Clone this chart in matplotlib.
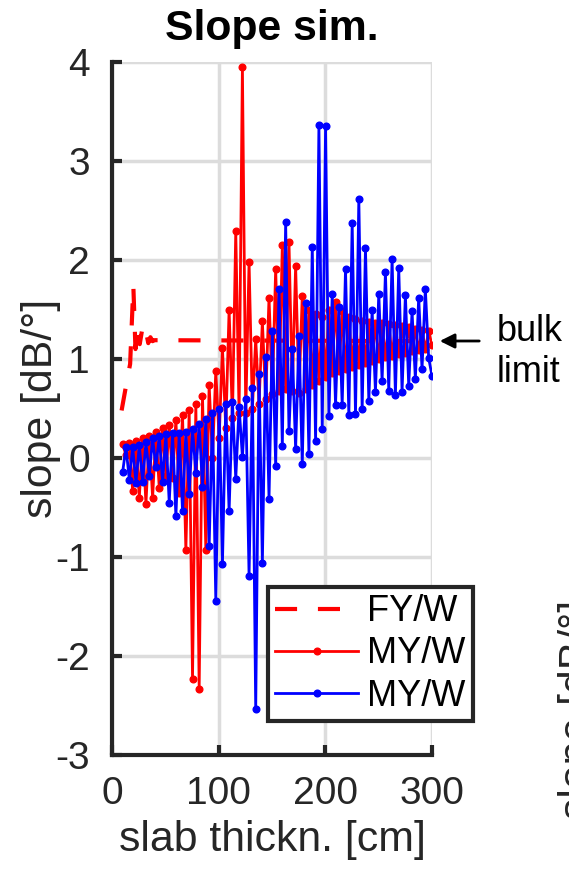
import numpy as np
import matplotlib
matplotlib.use('Agg')
import matplotlib.pyplot as plt

plt.rcParams['font.family'] = ['Liberation Sans', 'DejaVu Sans']
plt.rcParams['axes.unicode_minus'] = False

#Values
thickness = np.linspace(10, 300, 94)

fy_thickness = [9, 13, 17, 20, 22, 24, 26, 28, 30, 32, 34, 36, 38, 40, 300]
fy_slope = [0.48, 0.72, 0.95, 1.74, 1.10, 1.30, 1.15, 1.28, 1.20, 1.27, 1.16, 1.22, 1.18, 1.19, 1.18]

my_red = [0.14, 0.03, 0.155, -0.33, 0.17, -0.40, 0.20, -0.46, 0.22, -0.40,
          0.26, -0.30, 0.30, -0.18, 0.33, -0.20, 0.38, -0.35, 0.43, -0.93,
          0.48, -2.23, 0.55, -2.33, 0.63, -0.93, 0.74, 0.0, 0.88, 0.2,
          1.11, 0.3, 1.50, 0.4, 2.29, 0.45, 3.95, 0.45, 1.98, 0.5,
          1.20, 0.55, 1.38, 0.6, 1.62, 0.65, 1.91, 0.68, 2.15, 0.7,
          2.18, 0.68, 1.94, 0.66, 1.64, 0.70, 1.50, 0.74, 1.45, 0.78,
          1.42, 0.82, 1.50, 0.86, 1.58, 0.88, 1.48, 0.90, 1.42, 0.92,
          1.40, 0.94, 1.38, 0.96, 1.37, 0.98, 1.36, 1.0, 1.36, 1.02,
          1.35, 1.03, 1.34, 1.05, 1.33, 1.06, 1.32, 1.08, 1.30, 1.09,
          1.29, 1.10, 1.28, 1.14]

my_blue = [-0.14, 0.11, -0.22, 0.11, -0.25, 0.13, -0.24, 0.16, -0.18, 0.20,
           -0.09, 0.22, -0.24, 0.24, -0.45, 0.25, -0.59, 0.25, -0.54, 0.26,
           -0.36, 0.29, -0.15, 0.34, -0.29, 0.39, -0.89, 0.45, -1.44, 0.50,
           -1.07, 0.55, -0.54, 0.57, -0.21, 0.52, 0.01, 0.60, -1.19, 0.71,
           -2.54, 0.85, -1.06, 1.02, -0.41, 1.28, -0.08, 1.71, 0.12, 2.38,
           0.27, 1.10, 0.09, 1.23, -0.06, 1.57, 0.04, 2.13, 0.17, 3.36,
           0.29, 3.35, 0.42, 1.66, 0.54, 1.53, 0.54, 1.91, 0.43, 2.37,
           0.44, 2.62, 0.49, 2.12, 0.58, 1.49, 0.67, 1.66, 0.78, 1.88,
           0.68, 2.01, 0.64, 1.92, 0.67, 1.65, 0.73, 1.48, 0.80, 1.62,
           0.90, 1.71, 1.01, 0.83]

xticks = [0, 100, 200, 300]
yticks = [-3, -2, -1, 0, 1, 2, 3, 4]

fig = plt.figure(figsize=(5.69, 8.69), dpi=100)
ax = fig.add_axes([112/569, 1-755/869, 320/569, 693/869])

ax.plot(fy_thickness, fy_slope, color='red', lw=3.0, dashes=(5.3, 5.0), label='FY/W', zorder=2)
ax.plot(thickness, my_red, color='red', lw=2.0, marker='o', ms=4.8, label='MY/W', zorder=3)
ax.plot(thickness, my_blue, color='blue', lw=2.0, marker='o', ms=4.8, label='MY/W', zorder=4)

ax.set_xlim(0, 300)
ax.set_ylim(-3, 4)
ax.set_xticks(xticks)
ax.set_yticks(yticks)
ax.grid(True, color='#dcdcdc', lw=2.5)
ax.set_axisbelow(True)
for side in ['top', 'right']:
    ax.spines[side].set_visible(False)
for side in ['left', 'bottom']:
    ax.spines[side].set_linewidth(3)
    ax.spines[side].set_color('#262626')
ax.tick_params(direction='in', length=7, width=3, color='#262626', labelsize=28, labelcolor='#262626')
ax.tick_params(axis='y', pad=16)
ax.tick_params(axis='x', pad=15)

ax.set_title('Slope sim.', fontsize=30.8, fontweight='bold', pad=16)
ax.set_xlabel('slab thickn. [cm]', fontsize=30.8, color='#262626')
ax.set_ylabel('slope [dB/\u00b0]', fontsize=30.8, color='#262626')
ax.xaxis.set_label_coords(0.5, -0.094)
ax.yaxis.set_label_coords(-0.16, 0.5)

leg = ax.legend(loc='upper left', bbox_to_anchor=(268/569, 1-587/869), bbox_transform=fig.transFigure,
                borderaxespad=0, fontsize=26, handlelength=2.3, handletextpad=0.25,
                labelspacing=0.2, borderpad=0.2, fancybox=False, framealpha=1)
leg.get_frame().set_edgecolor('#262626')
leg.get_frame().set_linewidth(3)

#bulk limit arrow and note
fig.text(497/569, 1-352/869, 'bulk\nlimit', fontsize=26, ha='left', va='center')
ax.annotate('', xy=(437/569, 1-341/869), xycoords='figure fraction',
            xytext=(482/569, 1-341/869), textcoords='figure fraction',
            arrowprops=dict(arrowstyle='-|>', color='black', lw=2, mutation_scale=22))

#label of the neighbouring panel, cut at the edge as in the source figure
fig.text(578/569, 1-600/869, 'slope [dB/\u00b0]', fontsize=30.8, rotation=90, ha='center', va='top', color='#262626')

fig.savefig('out.png', dpi=100)
